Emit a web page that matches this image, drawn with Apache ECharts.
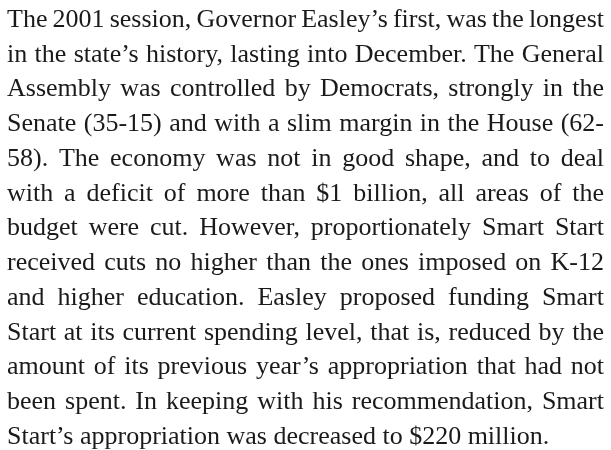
<!DOCTYPE html>
<html>
<head>
<meta charset="utf-8">
<script src="https://cdn.jsdelivr.net/npm/echarts@6/dist/echarts.min.js"></script>
<style>
  html, body { margin: 0; padding: 0; background: #fff; }
  #main { width: 611px; height: 450px; }
</style>
</head>
<body>
<div id="main"></div>
<script>
// paragraph lines, as broken in the picture
const lines = [
  'The 2001 session, Governor Easley\u2019s first, was the longest',
  'in the state\u2019s history, lasting into December.  The General',
  'Assembly was controlled by Democrats, strongly in the',
  'Senate (35-15) and with a slim margin in the House (62-',
  '58). The economy was not in good shape, and to deal',
  'with a deficit of more than $1 billion, all areas of the',
  'budget were cut.  However, proportionately Smart Start',
  'received cuts no higher than the ones imposed on  K-12',
  'and higher education.  Easley proposed funding Smart',
  'Start at its current spending level, that is, reduced by the',
  'amount of its previous year\u2019s appropriation that had not',
  'been spent.  In keeping with his recommendation, Smart'
]
const lastLine = 'Start\u2019s appropriation was decreased to $220 million.'

const fontSize = 26
const fontFamily = '"Liberation Serif", "DejaVu Serif", serif'
const padLeft = 7
const padRight = 604
const firstMid = 20
const lineH = 34.75

const myChart = echarts.init(document.getElementById('main'))

const ctx = document.createElement('canvas').getContext('2d')
ctx.font = fontSize + 'px ' + fontFamily

function word(w, x, y) {
  return {
    type: 'text', x: x, y: y,
    style: { text: w, fill: '#1a1a1a', font: fontSize + 'px ' + fontFamily, verticalAlign: 'middle', textVerticalAlign: 'middle' }
  }
}

// lay each justified line out word by word
const elements = []
lines.forEach((ln, i) => {
  const words = ln.split(/ +/)
  const widths = words.map(w => ctx.measureText(w).width)
  const total = widths.reduce((a, b) => a + b, 0)
  const gap = (padRight - padLeft - total) / (words.length - 1)
  let x = padLeft
  words.forEach((w, j) => {
    elements.push(word(w, x, firstMid + i * lineH))
    x += widths[j] + gap
  })
})
elements.push(word(lastLine, padLeft, firstMid + lines.length * lineH))

myChart.setOption({
  backgroundColor: '#fff',
  animation: false,
  graphic: elements
})
</script>
</body>
</html>
